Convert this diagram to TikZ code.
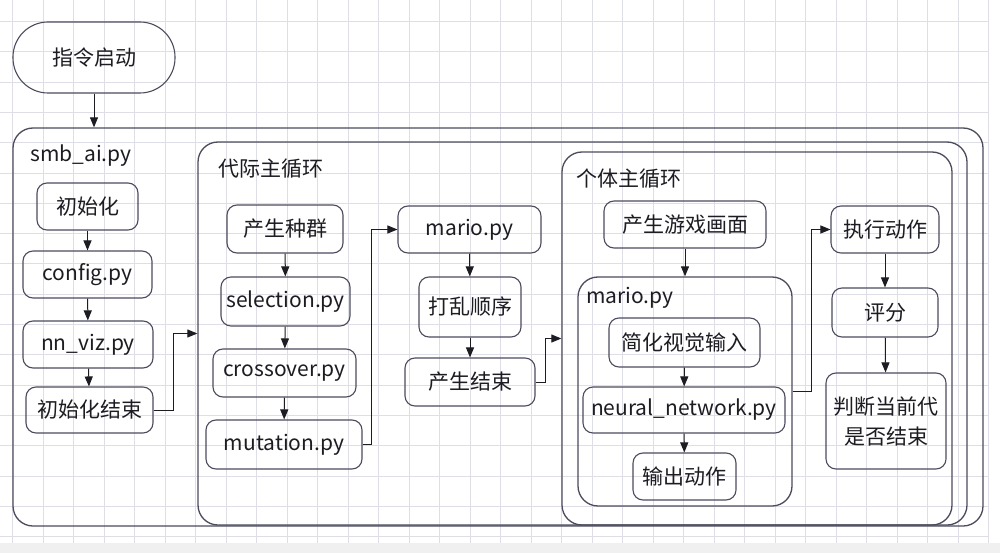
\documentclass[tikz,border=0pt]{standalone}
\usepackage{fontspec}
\setmainfont{Noto Sans CJK SC}
\usetikzlibrary{positioning,arrows.meta,shapes}
\definecolor{edge}{RGB}{76,76,94}
\definecolor{gridc}{RGB}{222,222,230}
\definecolor{ink}{RGB}{28,28,34}
\tikzset{
box/.style={
  draw=edge, line width=1.1pt, rounded corners=10pt,
  align=center, text=ink, inner sep=0pt
},
frame/.style={draw=edge, line width=1.3pt, rounded corners=20pt, inner sep=0pt},
title/.style={anchor=west, text=ink, inner sep=0pt},
arr/.style={draw=ink, line width=1pt, -{Triangle[length=10pt,width=8pt]}},
}

\begin{document}
\begin{tikzpicture}[x=1pt, y=-1pt, every node/.style={font=\fontsize{21}{30}\selectfont}]
    \useasboundingbox (0,0) rectangle (1000,553);
    \fill[white] (0,0) rectangle (1000,553);
    \fill[black!6] (0,543) rectangle (1000,553);
    % grid
    \foreach \gx in {0,...,32}
        \draw[gridc, line width=0.9pt] (12.5+30.5*\gx,0) -- (12.5+30.5*\gx,543);
    \foreach \gy in {0,...,17}
        \draw[gridc, line width=0.9pt] (0,21.5+30.3*\gy) -- (988,21.5+30.3*\gy);

    % frames
    \node[frame, minimum width=970, minimum height=398] (smb) at (498,327) {};
    \node[frame, minimum width=769, minimum height=383] (gen) at (582.5,333.5) {};
    \node[frame, minimum width=390, minimum height=373] (ind) at (757,338.5) {};
    \node[frame, minimum width=214, minimum height=229] (mariofr) at (685,391.5) {};
    \node[title] (smbl) at (30,156) {smb\_ai.py};
    \node[title] (genl) at (218,169) {代际主循环};
    \node[title] (indl) at (576,179) {个体主循环};
    \node[title] (mariol) at (586,298) {mario.py};

    \node[box, rounded corners=35pt, minimum width=162, minimum height=71] (start) at (94,57.5) {指令启动};

    % smb_ai.py
    \node[box, minimum width=101, minimum height=47] (init) at (87.5,206.5) {初始化};
    \node[box, minimum width=129, minimum height=47] (config) at (87.5,274.5) {config.py};
    \node[box, minimum width=130, minimum height=47] (nnviz) at (88,344.5) {nn\_viz.py};
    \node[box, minimum width=127, minimum height=46] (initend) at (89.5,410) {初始化结束};

    % generations
    \node[box, minimum width=116, minimum height=48] (pop) at (285,229) {产生种群};
    \node[box, minimum width=129, minimum height=49] (sel) at (285.5,301.5) {selection.py};
    \node[box, minimum width=143, minimum height=48] (cross) at (284.5,373) {crossover.py};
    \node[box, minimum width=156, minimum height=49] (mut) at (284,444.5) {mutation.py};

    \node[box, minimum width=143, minimum height=47] (mario) at (469.5,229.5) {mario.py};
    \node[box, minimum width=102, minimum height=60] (shuffle) at (470,307) {打乱顺序};
    \node[box, minimum width=130, minimum height=48] (genend) at (470,382) {产生结束};

    % individuals
    \node[box, minimum width=162, minimum height=47] (screen) at (685,224.5) {产生游戏画面};
    \node[box, minimum width=151, minimum height=49] (simp) at (684.5,342.5) {简化视觉输入};
    \node[box, minimum width=202, minimum height=46] (nn) at (684,410) {neural\_network.py};
    \node[box, minimum width=103, minimum height=47] (out) at (684.5,476.5) {输出动作};

    \node[box, minimum width=108, minimum height=47] (act) at (885,229.5) {执行动作};
    \node[box, minimum width=106, minimum height=49] (score) at (885,312.5) {评分};
    \node[box, minimum width=120, minimum height=96] (judge) at (886,421) {判断当前代\\是否结束};

    % connectors
    \draw[arr] (start) -- (start |- smb.north);
    \draw[arr] (init) -- (config);
    \draw[arr] (config) -- (nnviz);
    \draw[arr] (nnviz) -- (initend);
    \draw[arr] (initend.east) -- ++(20,0) |- (gen.west);
    \draw[arr] (pop) -- (sel);
    \draw[arr] (sel) -- (cross);
    \draw[arr] (cross) -- (mut);
    \draw[arr] (mut.east) -- ++(9,0) |- (mario.west);
    \draw[arr] (mario) -- (shuffle);
    \draw[arr] (shuffle) -- (genend);
    \draw[arr] (genend.east) -- ++(10,0) |- (ind.west);
    \draw[arr] (screen) -- (screen |- mariofr.north);
    \draw[arr] (simp) -- (nn);
    \draw[arr] (nn) -- (out);
    \draw[arr] (mariofr.east) -- ++(19,0) |- (act.west);
    \draw[arr] (act) -- (score);
    \draw[arr] (score) -- (judge);
\end{tikzpicture}
\end{document}
